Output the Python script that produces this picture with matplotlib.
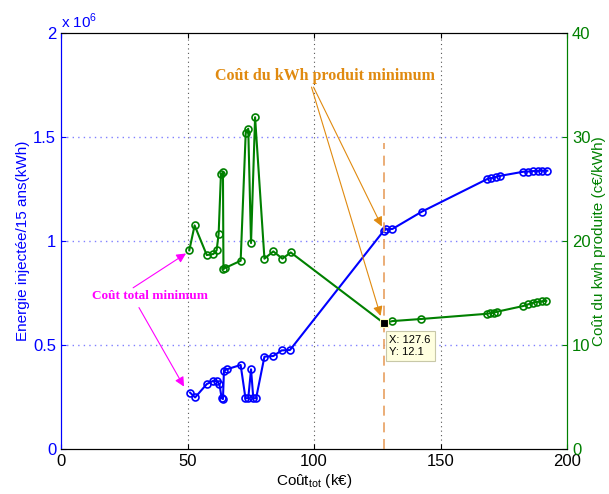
import numpy as np
import matplotlib.pyplot as plt

plt.rcParams['font.family'] = ['Liberation Sans', 'DejaVu Sans']

# total cost (k€) and injected energy (kWh / 15 years)
cout_energie = [51.0, 53.0, 57.6, 60.2, 61.8, 62.6, 63.5, 64.0, 64.4, 65.5,
                71.0, 72.9, 74.0, 75.1, 76.0, 77.1, 80.4, 83.9, 87.2, 90.5,
                127.6, 128.5, 131.0, 142.6, 168.3, 170.0, 171.8, 173.5,
                182.7, 184.6, 186.5, 188.4, 190.3, 192.2]
energie = [0.271, 0.248, 0.312, 0.328, 0.325, 0.312, 0.244, 0.240, 0.376, 0.383,
           0.404, 0.244, 0.244, 0.383, 0.244, 0.244, 0.444, 0.447, 0.474, 0.476,
           1.050, 1.056, 1.058, 1.141, 1.297, 1.302, 1.308, 1.313,
           1.333, 1.334, 1.336, 1.337, 1.338, 1.338]
energie = [e * 1e6 for e in energie]

# total cost (k€) and cost of the produced kWh (c€/kWh)
cout_kwh = [50.7, 52.8, 57.6, 60.2, 61.5, 62.3, 63.2, 64.0, 64.2, 64.8,
            71.0, 73.0, 74.0, 75.1, 76.7, 80.4, 83.9, 87.5, 90.8,
            127.6, 131.0, 142.3, 168.3, 169.6, 171.0, 172.3,
            182.7, 184.5, 186.4, 188.3, 190.1, 191.8]
prix_kwh = [19.1, 21.5, 18.65, 18.75, 19.1, 20.7, 26.4, 26.6, 17.3, 17.4,
            18.1, 30.4, 30.8, 19.8, 31.9, 18.3, 19.0, 18.3, 18.9,
            12.1, 12.3, 12.5, 13.0, 13.05, 13.1, 13.2,
            13.75, 13.9, 14.05, 14.15, 14.2, 14.25]

x_min, y_min = 127.6, 12.1

blue = '#0000FF'
green = '#008000'
orange = '#E08A10'
magenta = '#FF00FF'

fig = plt.figure(figsize=(6.09, 4.94), dpi=100)
ax1 = fig.add_axes([0.1002, 0.0911, 0.8309, 0.8421])
ax2 = ax1.twinx()

ax1.plot(cout_energie, energie, '-o', color=blue, lw=1.5, ms=5, mfc='none', mew=1.2)
ax2.plot(cout_kwh, prix_kwh, '-o', color=green, lw=1.5, ms=5, mfc='none', mew=1.2)

ax1.set_xlim(0, 200)
ax1.set_ylim(0, 2e6)
ax2.set_ylim(0, 40)
ax1.set_xticks([0, 50, 100, 150, 200])
ax1.set_yticks([0, 0.5e6, 1e6, 1.5e6, 2e6])
ax1.set_yticklabels(['0', '0.5', '1', '1.5', '2'])
ax2.set_yticks([0, 10, 20, 30, 40])

# grid
for xv in [50, 100, 150]:
    ax1.axvline(xv, color='#555555', ls=(0, (1, 3)), lw=0.8, zorder=0)
for yv in [0.5e6, 1e6, 1.5e6]:
    ax1.axhline(yv, color='#8080FF', ls=(0, (1, 3)), lw=1.0, zorder=0)

ax1.tick_params(axis='x', direction='in', top=True, labelsize=12, colors='black')
ax1.tick_params(axis='y', direction='in', colors=blue, labelsize=12)
ax2.tick_params(axis='y', direction='in', colors=green, labelsize=12)
ax2.spines['left'].set_color(blue)
ax2.spines['right'].set_color(green)
ax1.spines['left'].set_color(blue)
ax1.spines['right'].set_color(green)

ax1.set_xlabel('Coût$_{\\mathregular{tot}}$ (k€)', fontsize=11, labelpad=2)
ax1.set_ylabel('Energie injectée/15 ans(kWh)', color=blue, fontsize=11, labelpad=2)
ax2.set_ylabel('Coût du kwh produite (c€/kWh)', color=green, fontsize=11, labelpad=1)
ax1.text(0.0, 1.005, 'x 10$^{\\mathregular{6}}$', transform=ax1.transAxes, color=blue,
         fontsize=11, va='bottom', ha='left')

# minimum marker, data tip and dashed line
ax2.plot([x_min, x_min], [0, 29.4], color='#E8A060', ls='--', lw=1.2, dashes=(6, 4))
ax2.plot(x_min, y_min, 's', color='black', ms=6, mec='#FFFFC0', mew=0.8)
ax2.text(129.8, 11.0, 'X: %.1f\nY: %.1f' % (x_min, y_min), fontsize=8, va='top', ha='left',
         linespacing=1.3,
         bbox=dict(boxstyle='square,pad=0.35', facecolor='#FFFFE0', edgecolor='#C8C8A8', lw=0.8))

# annotations
serif = ['Liberation Serif', 'DejaVu Serif']
ax2.text(104.3, 35.85, 'Coût du kWh produit minimum', color=orange, fontsize=11.5,
         fontweight='bold', family=serif, ha='center', va='center')
arr_o = dict(arrowstyle='-|>', color=orange, lw=0.8, mutation_scale=14, shrinkA=0, shrinkB=0)
ax2.annotate('', xy=(126.8, 21.4), xytext=(99.8, 34.8), arrowprops=arr_o)
ax2.annotate('', xy=(126.3, 12.8), xytext=(99.0, 34.8), arrowprops=arr_o)

ax2.text(35.2, 14.7, 'Coût total minimum', color=magenta, fontsize=9.5,
         fontweight='bold', family=serif, ha='center', va='center')
arr_m = dict(arrowstyle='-|>', color=magenta, lw=0.8, mutation_scale=14, shrinkA=0, shrinkB=0)
ax2.annotate('', xy=(49.4, 18.8), xytext=(28.5, 15.5), arrowprops=arr_m)
ax2.annotate('', xy=(48.6, 6.0), xytext=(30.8, 13.6), arrowprops=arr_m)

fig.savefig('out.png', dpi=100)
